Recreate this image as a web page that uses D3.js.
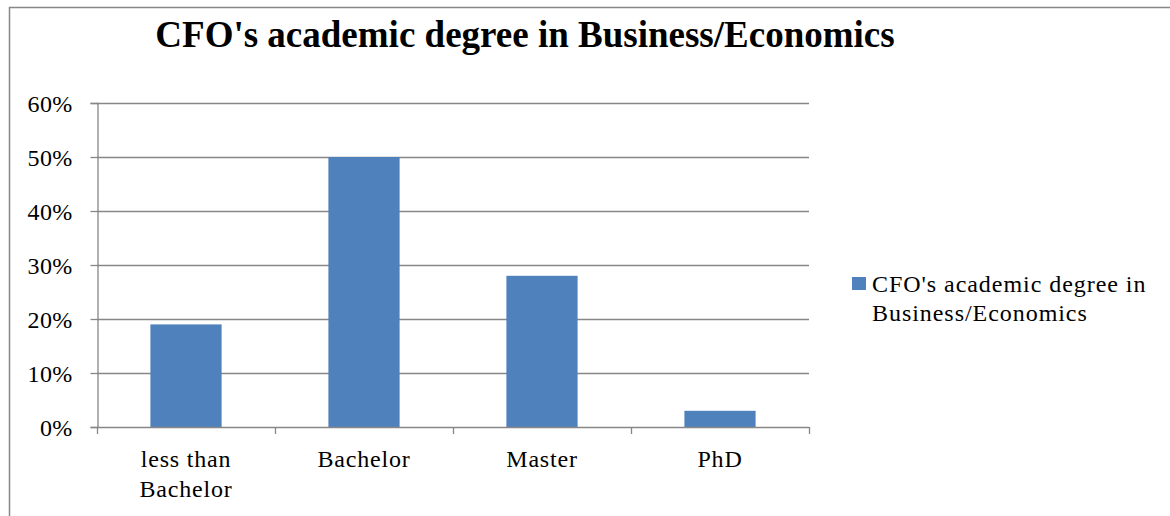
<!DOCTYPE html>
<html>
<head>
<meta charset="utf-8">
<script src="https://cdn.jsdelivr.net/npm/d3@7"></script>
<style>
  html, body { margin: 0; padding: 0; background: #fff; }
  svg text { font-family: "Liberation Serif", "Times New Roman", Times, serif; }
</style>
</head>
<body>
<svg id="chart" width="1170" height="516"></svg>
<script>
// Share of CFOs by academic degree in Business/Economics
const categories = [["less than", "Bachelor"], ["Bachelor"], ["Master"], ["PhD"]];
const values = [0.19, 0.50, 0.28, 0.03];
const yTicks = [0, 0.1, 0.2, 0.3, 0.4, 0.5, 0.6];
const seriesName = ["CFO's academic degree in", "Business/Economics"];
const titleText = "CFO's academic degree in Business/Economics";

const FONT = "'Liberation Serif', 'Times New Roman', Times, serif";
const svg = d3.select("#chart");
const gridColor = "#878787";
const barColor = "#4F81BD";

// outer chart frame
svg.append("rect")
  .attr("x", 9.5).attr("y", 7.5)
  .attr("width", 1200).attr("height", 560)
  .attr("fill", "none").attr("stroke", gridColor).attr("stroke-width", 1.5);

const plot = { left: 97, right: 809, top: 103, bottom: 427 };

const x = d3.scaleBand()
  .domain(d3.range(categories.length))
  .range([plot.left, plot.right])
  .paddingInner(0.6).paddingOuter(0.3);

const y = d3.scaleLinear().domain([0, 0.6]).range([plot.bottom, plot.top]);

// horizontal gridlines
svg.append("g").selectAll("line")
  .data(yTicks.filter(d => d > 0))
  .join("line")
  .attr("x1", plot.left).attr("x2", plot.right)
  .attr("y1", d => Math.round(y(d)) + 0.5).attr("y2", d => Math.round(y(d)) + 0.5)
  .attr("stroke", gridColor).attr("stroke-width", 1.3);

// bars
svg.append("g").selectAll("rect")
  .data(values)
  .join("rect")
  .attr("x", (d, i) => x(i))
  .attr("width", x.bandwidth())
  .attr("y", d => y(d))
  .attr("height", d => y(0) - y(d))
  .attr("fill", barColor);

// y axis
const yAxis = d3.axisLeft(y)
  .tickValues(yTicks)
  .tickFormat(d3.format(".0%"))
  .tickSize(7).tickPadding(18);
const gy = svg.append("g")
  .attr("transform", `translate(${plot.left + 0.5},0)`)
  .call(yAxis)
  .attr("font-family", null).attr("font-size", null);
gy.select(".domain").attr("stroke", gridColor).attr("stroke-width", 1.3);
gy.selectAll(".tick line").attr("stroke", gridColor).attr("stroke-width", 1.3);
gy.selectAll(".tick text")
  .attr("fill", "#000")
  .attr("dy", "0.36em")
  .style("font-size", "24px")
  .style("letter-spacing", "0.3px")
  .style("font-family", FONT);

// x axis with ticks between categories
const step = (plot.right - plot.left) / categories.length;
const xb = svg.append("g");
xb.append("line")
  .attr("x1", plot.left).attr("x2", plot.right)
  .attr("y1", plot.bottom + 0.5).attr("y2", plot.bottom + 0.5)
  .attr("stroke", gridColor).attr("stroke-width", 1.3);
xb.selectAll("line.tk")
  .data(d3.range(categories.length + 1))
  .join("line").attr("class", "tk")
  .attr("x1", i => plot.left + i * step + 0.5).attr("x2", i => plot.left + i * step + 0.5)
  .attr("y1", plot.bottom).attr("y2", plot.bottom + 7)
  .attr("stroke", gridColor).attr("stroke-width", 1.3);

xb.selectAll("text")
  .data(categories)
  .join("text")
  .attr("x", (d, i) => x(i) + x.bandwidth() / 2)
  .attr("y", 467)
  .attr("text-anchor", "middle")
  .style("font-size", "24px")
  .style("letter-spacing", "0.8px")
  .style("font-family", FONT)
  .attr("fill", "#000")
  .selectAll("tspan")
  .data(d => d)
  .join("tspan")
  .attr("x", function() { return d3.select(this.parentNode).attr("x"); })
  .attr("dy", (d, i) => i === 0 ? 0 : 29.5)
  .text(d => d);

// title
svg.append("text")
  .attr("x", 525).attr("y", 47)
  .attr("text-anchor", "middle")
  .style("font-size", "37px").style("font-weight", "bold")
  .style("font-family", FONT)
  .attr("fill", "#000")
  .text(titleText);

// legend
const lg = svg.append("g");
lg.append("rect")
  .attr("x", 852).attr("y", 277)
  .attr("width", 14).attr("height", 13)
  .attr("fill", barColor);
lg.append("text")
  .attr("x", 872).attr("y", 292)
  .style("font-size", "24px")
  .style("letter-spacing", "0.95px")
  .style("font-family", FONT)
  .attr("fill", "#000")
  .selectAll("tspan")
  .data(seriesName)
  .join("tspan")
  .attr("x", 872)
  .attr("dy", (d, i) => i === 0 ? 0 : 29)
  .text(d => d);
</script>
</body>
</html>
